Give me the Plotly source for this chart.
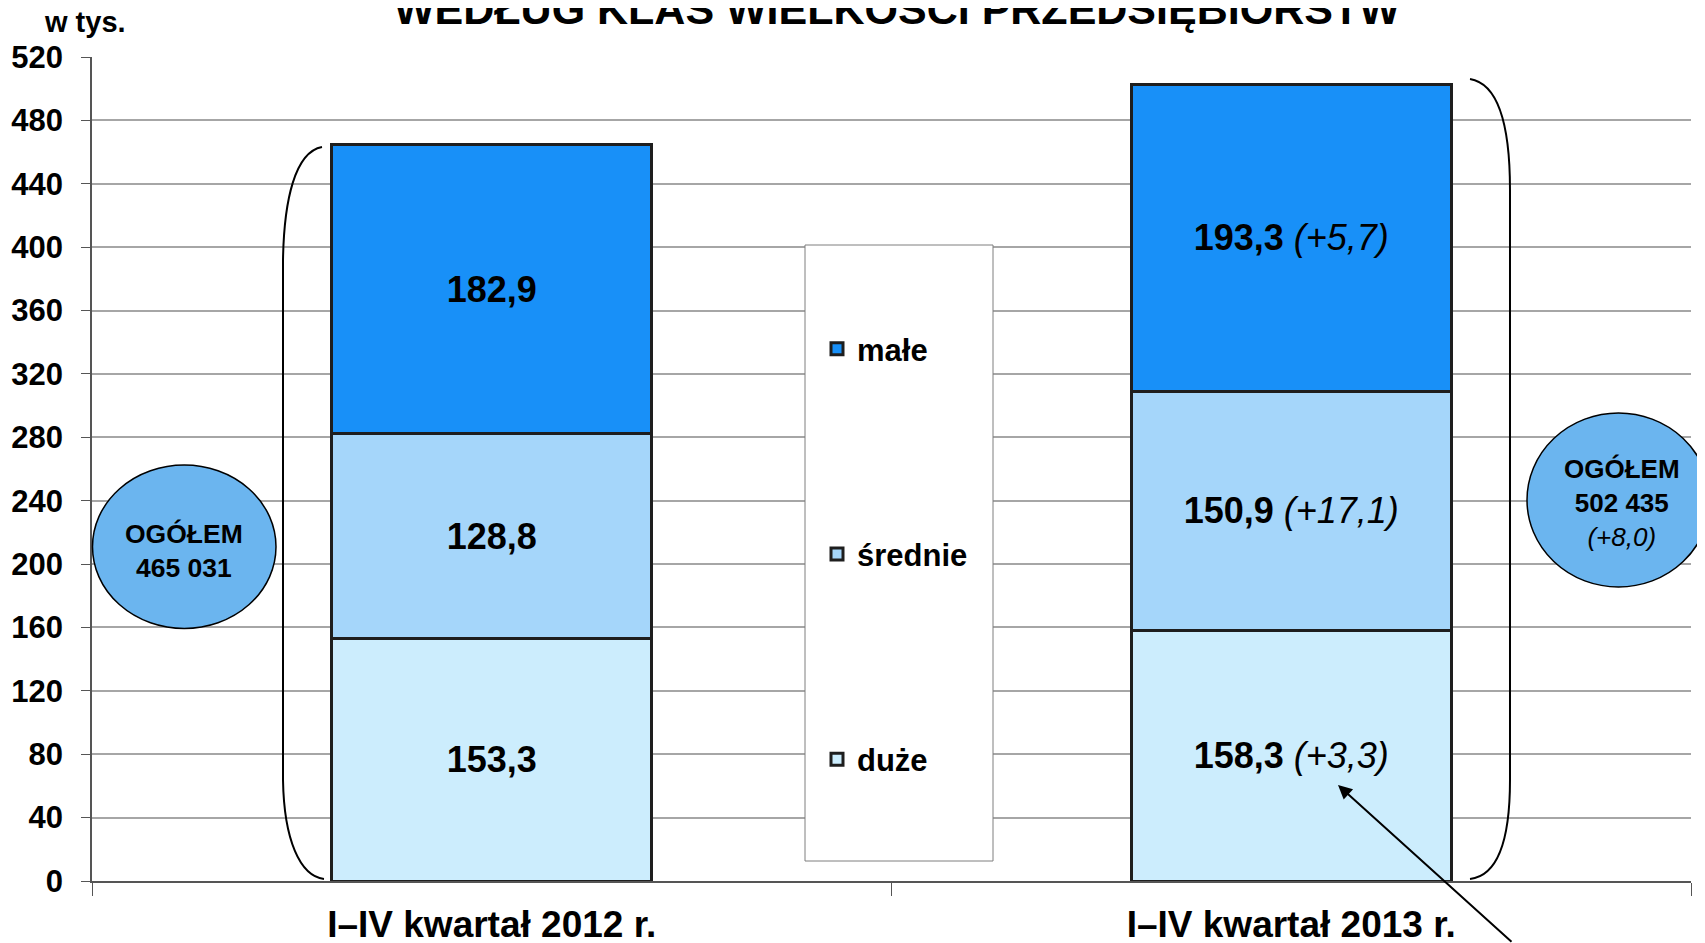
import plotly.graph_objects as go

# ---- data ----
categories = ["I\u2013IV kwarta\u0142 2012 r.", "I\u2013IV kwarta\u0142 2013 r."]
series_names = ["du\u017ce", "\u015brednie", "ma\u0142e"]
duze = [153.3, 158.3]
srednie = [128.8, 150.9]
male = [182.9, 193.3]
duze_change = [None, "+3,3"]
srednie_change = [None, "+17,1"]
male_change = [None, "+5,7"]
totals = ["465 031", "502 435"]
total_change = [None, "+8,0"]
y_ticks = list(range(0, 521, 40))
title_text = "WED\u0141UG KLAS WIELKO\u015aCI PRZEDSI\u0118BIORSTW"
unit_text = "w tys."

colors = ["#CCEDFD", "#A5D6FA", "#1890F8"]
legend_ranks = [3, 2, 1]

# page has an 8px body margin; figure sized so page coords match the reference
OFF = 8
W, H = 1697, 935
ML, MT = 92 - OFF, 57 - OFF
MR = W - (1691 - OFF)
MB = H - (881 - OFF)
PW, PH = W - ML - MR, H - MT - MB


def px(X):  # page pixel -> paper x
    return (X - OFF - ML) / PW


def py(Y):  # page pixel -> paper y
    return (H - MB - (Y - OFF)) / PH


def fmt(v):
    return f"{v:.1f}".replace(".", ",")


def labels(vals, changes):
    out = []
    for v, c in zip(vals, changes):
        s = f"<b>{fmt(v)}</b>"
        if c:
            s += f" <i>({c})</i>"
        out.append(s)
    return out


FONT = "Liberation Sans, Arial, sans-serif"
fig = go.Figure()
for name, vals, chg, col, rk in zip(series_names, [duze, srednie, male],
                                    [duze_change, srednie_change, male_change],
                                    colors, legend_ranks):
    fig.add_trace(go.Bar(
        x=categories, y=vals, name=name, legendgroup=name, legendrank=rk,
        marker=dict(color=col, line=dict(color="#1e1e1e", width=3)),
        text=labels(vals, chg), textposition="inside", insidetextanchor="middle",
        textangle=0, constraintext="none",
        textfont=dict(family=FONT, size=36, color="black"),
        hoverinfo="x+y",
    ))

fig.update_layout(
    width=W, height=H, barmode="stack", bargap=0.6,
    margin=dict(l=ML, r=MR, t=MT, b=MB, autoexpand=False),
    paper_bgcolor="white", plot_bgcolor="white",
    font=dict(family=FONT, color="black"),
    showlegend=True,
    legend=dict(
        x=px(817), y=py(322), xanchor="left", yanchor="top",
        traceorder="grouped", tracegroupgap=162,
        font=dict(family=FONT, size=31, color="black", weight="bold"),
        bgcolor="rgba(0,0,0,0)", borderwidth=0,
    ),
    xaxis=dict(
        type="category", tickson="boundaries", ticks="outside", ticklen=13,
        tickcolor="#555", showline=True, linecolor="#555", linewidth=1.5,
        showgrid=False,
        tickfont=dict(family=FONT, size=37, color="black", weight="bold"),
        ticklabelstandoff=10,
    ),
    yaxis=dict(
        range=[0, 520], tickvals=y_ticks, ticks="outside", ticklen=9,
        tickcolor="#555", showline=True, linecolor="#555", linewidth=1.5,
        showgrid=True, gridcolor="#a6a6a6", gridwidth=1.5, zeroline=False,
        tickfont=dict(family=FONT, size=31, color="black", weight="bold"),
        ticklabelstandoff=12,
    ),
)

shapes = []
# legend frame
shapes.append(dict(type="rect", xref="paper", yref="paper",
                   x0=px(805), x1=px(993), y0=py(861), y1=py(245),
                   line=dict(color="#7f7f7f", width=1), fillcolor="white", layer="above"))
# total ellipses
shapes.append(dict(type="circle", xref="paper", yref="paper",
                   x0=px(92.5), x1=px(276), y0=py(628.5), y1=py(465),
                   line=dict(color="black", width=1.5), fillcolor="#6BB5EF", layer="above"))
shapes.append(dict(type="circle", xref="paper", yref="paper",
                   x0=px(1527), x1=px(1710), y0=py(587), y1=py(413),
                   line=dict(color="black", width=1.5), fillcolor="#6BB5EF", layer="above"))


def path(points):
    s = ""
    for cmd, pts in points:
        s += cmd + " ".join(f"{px(X):.5f},{py(Y):.5f}" for X, Y in pts) + " "
    return s.strip()


# left brace "("
shapes.append(dict(type="path", xref="paper", yref="paper", layer="above",
                   line=dict(color="black", width=2),
                   path=path([("M", [(322, 147)]),
                              ("C", [(295, 152), (284, 200), (283, 260)]),
                              ("L", [(283, 780)]),
                              ("C", [(284, 840), (300, 876), (324, 879)])])))
# right brace ")"
shapes.append(dict(type="path", xref="paper", yref="paper", layer="above",
                   line=dict(color="black", width=2),
                   path=path([("M", [(1470, 79)]),
                              ("C", [(1500, 84), (1510, 130), (1510, 190)]),
                              ("L", [(1510, 780)]),
                              ("C", [(1510, 845), (1496, 876), (1470, 879)])])))
fig.update_layout(shapes=shapes)

ann = []
ann.append(dict(text=f"<b>{title_text}</b>", xref="paper", yref="paper",
                x=px(897), y=py(9), xanchor="center", yanchor="middle",
                showarrow=False, font=dict(family=FONT, size=43, color="black")))
ann.append(dict(text=f"<b>{unit_text}</b>", xref="paper", yref="paper",
                x=px(85), y=py(22), xanchor="center", yanchor="middle",
                showarrow=False, font=dict(family=FONT, size=29, color="black")))
ann.append(dict(text=f"<b>OG\u00d3\u0141EM<br>{totals[0]}</b>", xref="paper", yref="paper",
                x=px(184), y=py(551), xanchor="center", yanchor="middle",
                showarrow=False, font=dict(family=FONT, size=26.5, color="black")))
ann.append(dict(text=f"<b>OG\u00d3\u0141EM<br>{totals[1]}</b><br><i>({total_change[1]})</i>",
                xref="paper", yref="paper",
                x=px(1622), y=py(503), xanchor="center", yanchor="middle",
                showarrow=False, font=dict(family=FONT, size=26, color="black")))
# arrow pointing at the change label
ann.append(dict(text="", xref="paper", yref="paper", x=px(1338), y=py(785),
                ax=175, ay=185, axref="pixel", ayref="pixel",
                showarrow=True, arrowhead=2, arrowsize=1.4, arrowwidth=2,
                arrowcolor="black"))
fig.update_layout(annotations=ann)

fig.write_html("out.html")
